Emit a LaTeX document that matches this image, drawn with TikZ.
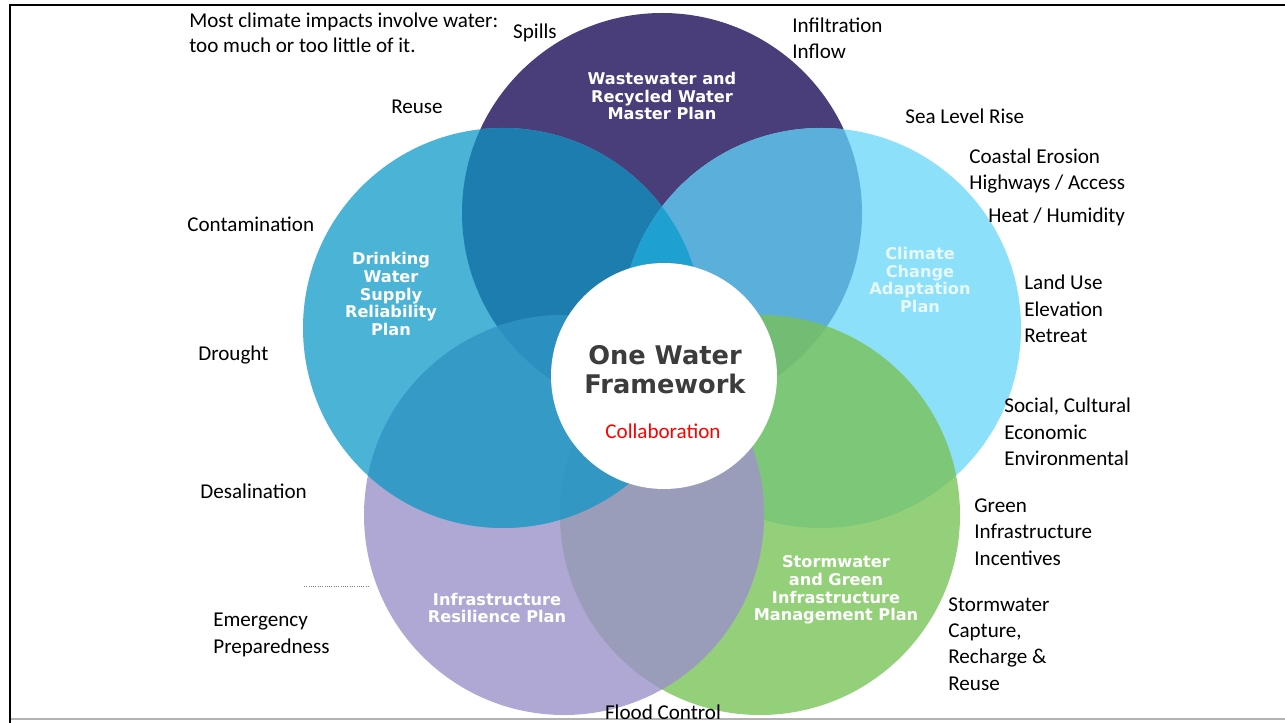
\documentclass[tikz,border=0pt]{standalone}
\usepackage{fontspec}
\setmainfont{Carlito}
\newfontfamily\plnfont{DejaVu Sans}
\usepackage{xcolor}
\usepackage{tikz}
\usetikzlibrary{positioning}

\definecolor{wwpurple}{HTML}{4A3E7A}
\definecolor{ccblue}{HTML}{8CE0FA}
\definecolor{dwteal}{HTML}{4BB4D6}
\definecolor{swgreen}{HTML}{94D07A}
\definecolor{irlav}{HTML}{B0A8D4}
\definecolor{wwdw}{HTML}{1C7DAE}
\definecolor{wwcc}{HTML}{5AB0DA}
\definecolor{ccsw}{HTML}{7CC878}
\definecolor{swir}{HTML}{9A9DBA}
\definecolor{irdw}{HTML}{369AC6}
\definecolor{wwir}{HTML}{2B8FC0}
\definecolor{dwcc}{HTML}{1EA0D0}
\definecolor{wwsw}{HTML}{72BC73}
\definecolor{dwsw}{HTML}{3397C4}
\definecolor{ccir}{HTML}{9A9DBA}
\definecolor{owftext}{HTML}{3C3C3C}

\newcommand{\circr}{40mm}
\newcommand{\lensfill}[3]{%
  \begin{scope}
    \clip (#1) circle[radius=\circr];
    \fill[#3] (#2) circle[radius=\circr];
  \end{scope}}

\begin{document}
\begin{tikzpicture}[
    x=0.2mm, y=-0.2mm,
    note/.style={font=\fontsize{12}{15}\selectfont, align=left, anchor=west, inner sep=0pt},
    plan/.style={font=\plnfont\bfseries\fontsize{9.2}{10}\selectfont, text=white, align=center, inner sep=0pt},
  ]

  \useasboundingbox (0,0) rectangle (1285,723);

  % circle centres
  \coordinate (ww) at (662,213);
  \coordinate (dw) at (503,328);
  \coordinate (cc) at (821,328);
  \coordinate (sw) at (760,515);
  \coordinate (ir) at (564,515);

  \fill[wwpurple] (ww) circle[radius=\circr];
  \fill[ccblue]   (cc) circle[radius=\circr];
  \fill[swgreen]  (sw) circle[radius=\circr];
  \fill[irlav]    (ir) circle[radius=\circr];
  \fill[dwteal]   (dw) circle[radius=\circr];

  % overlaps
  \lensfill{ww}{dw}{wwdw}
  \lensfill{ww}{cc}{wwcc}
  \lensfill{cc}{sw}{ccsw}
  \lensfill{sw}{ir}{swir}
  \lensfill{ir}{dw}{irdw}
  \lensfill{ww}{ir}{wwir}
  \lensfill{dw}{cc}{dwcc}
  \lensfill{ww}{sw}{wwsw}
  \lensfill{dw}{sw}{dwsw}
  \lensfill{cc}{ir}{ccir}

  \node[circle, fill=white, minimum size=45.2mm, inner sep=0pt] (hub) at (664,376) {};

  \node[plan] (wwlbl) at (662,96)  {Wastewater and\\Recycled Water\\Master Plan};
  \node[plan] (dwlbl) at (391,294) {Drinking\\Water\\Supply\\Reliability\\Plan};
  \node[plan, text=white!80!ccblue] (cclbl) at (920,280) {Climate\\Change\\Adaptation\\Plan};
  \node[plan] (swlbl) at (836,590) {Stormwater\\and Green\\Infrastructure\\Management Plan};
  \node[plan] (irlbl) at (497,608) {Infrastructure\\Resilience Plan};

  \node[font=\plnfont\bfseries\fontsize{14.6}{16.5}\selectfont, text=owftext, align=center, inner sep=0pt] (owf) at (665,370) {One Water\\Framework};
  \node[font=\fontsize{12}{15}\selectfont, text=red, inner sep=0pt] (collab) at (663,431) {Collaboration};

  % side notes
  \node[note, font=\fontsize{12}{14}\selectfont] (most) at (189,33) {Most climate impacts involve water:\\too much or too little of it.};
  \node[note, anchor=center] (spills) at (535,33) {Spills};
  \node[note] (infil) at (792,38) {Infiltration\\Inflow};
  \node[note, anchor=center] (reuse) at (417,107) {Reuse};
  \node[note] (slr) at (905,116) {Sea Level Rise};
  \node[note] (coast) at (969,171) {Coastal Erosion\\Highways / Access};
  \node[note] (heat) at (988,217) {Heat / Humidity};
  \node[note] (contam) at (187,224) {Contamination};
  \node[note] (land) at (1024,309) {Land Use\\Elevation\\Retreat};
  \node[note] (drought) at (198,355) {Drought};
  \node[note] (social) at (1004,432) {Social, Cultural\\Economic\\Environmental};
  \node[note] (desal) at (200,491) {Desalination};
  \node[note] (green) at (974,532) {Green\\Infrastructure\\Incentives};
  \node[note] (storm) at (948,644) {Stormwater\\Capture,\\Recharge \&\\Reuse};
  \node[note] (emerg) at (213,635) {Emergency\\Preparedness};

  \coordinate (dotl) at (304,586);
  \coordinate (dotr) at (370,586);
  \draw[gray, densely dotted, line width=0.3pt] (dotl) -- (dotr);

  % frame
  \draw[gray!60, line width=0.5mm] (10,719) -- (1285,719);
  \draw[black, line width=0.4mm] (10,723) -- (10,5) -- (1285,5);

  \node[note, anchor=center] (flood) at (663,712) {Flood Control};

\end{tikzpicture}
\end{document}
